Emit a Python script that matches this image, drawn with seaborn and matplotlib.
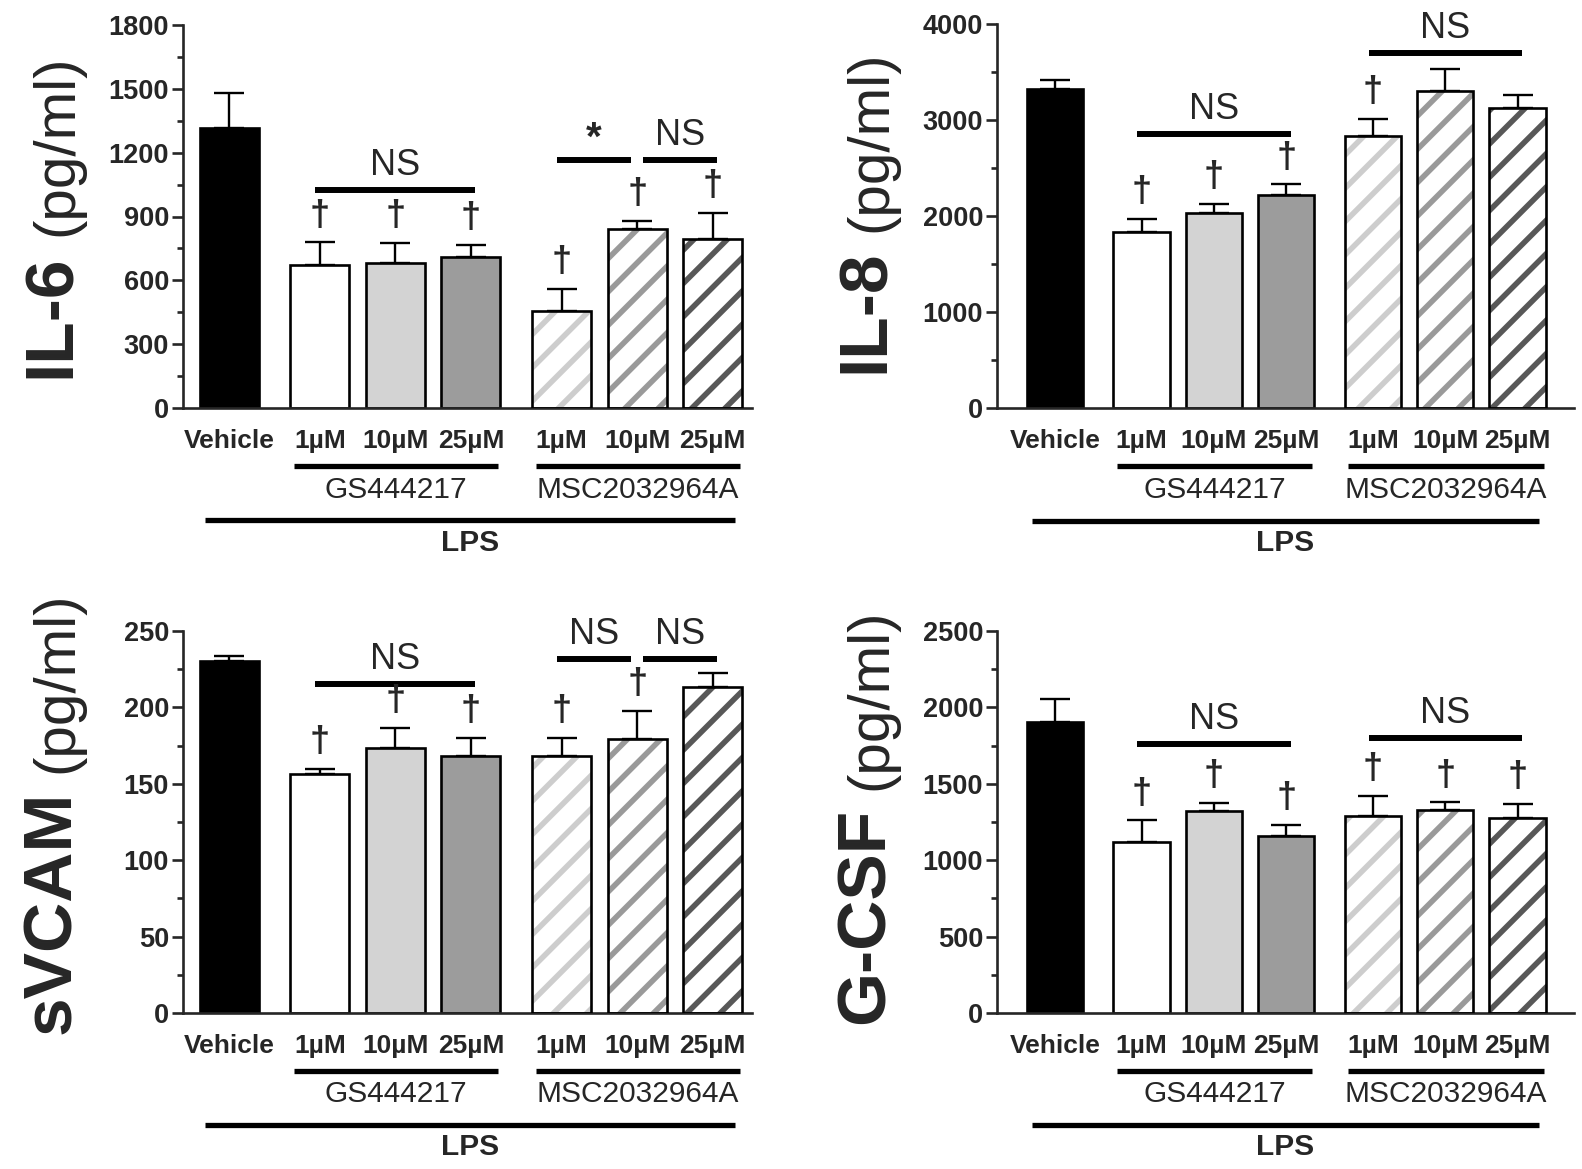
import numpy as np
import pandas as pd
import matplotlib
matplotlib.use('Agg')
import matplotlib.pyplot as plt
import matplotlib.transforms as mtransforms
from matplotlib.patches import Rectangle
from matplotlib.ticker import MultipleLocator
import seaborn as sns

# Bar groups and labels
categories = ['Vehicle', 'GS 1uM', 'GS 10uM', 'GS 25uM', 'MSC 1uM', 'MSC 10uM', 'MSC 25uM']
tick_labels = ['Vehicle', '1µM', '10µM', '25µM', '1µM', '10µM', '25µM']
group_names = ['GS444217', 'MSC2032964A']
stimulus = 'LPS'

# Mean and upper error (pg/ml)
il6_mean = [1315, 672, 683, 711, 457, 841, 796]
il6_err = [167, 106, 93, 54, 104, 40, 121]
il8_mean = [3325, 1832, 2036, 2214, 2838, 3300, 3130]
il8_err = [90, 138, 88, 115, 172, 232, 132]
svcam_mean = [230.6, 156.3, 173.3, 168.0, 168.0, 179.5, 213.6]
svcam_err = [2.8, 3.6, 13.2, 11.8, 11.8, 18.2, 9.0]
gcsf_mean = [1905, 1120, 1320, 1160, 1292, 1330, 1278]
gcsf_err = [152, 140, 53, 73, 130, 48, 90]

# Bars marked with a dagger
il6_daggers = [1, 2, 3, 4, 5, 6]
il8_daggers = [1, 2, 3, 4]
svcam_daggers = [1, 2, 3, 4, 5]
gcsf_daggers = [1, 2, 3, 4, 5, 6]

# Comparison lines: (first bar, last bar, height, label)
il6_brackets = [(1, 3, 1025, 'NS'), (4, 5, 1165, '*'), (5, 6, 1165, 'NS')]
il8_brackets = [(1, 3, 2850, 'NS'), (4, 6, 3700, 'NS')]
svcam_brackets = [(1, 3, 215.5, 'NS'), (4, 5, 231.8, 'NS'), (5, 6, 231.8, 'NS')]
gcsf_brackets = [(1, 3, 1762, 'NS'), (4, 6, 1800, 'NS')]

# layout / style
positions = [0, 1.2, 2.2, 3.2, 4.4, 5.4, 6.4]
bar_width = 0.78
face_colors = ['black', 'white', '#d3d3d3', '#9c9c9c', 'white', 'white', 'white']
stripe_colors = [None, None, None, None, '#cdcdcd', '#9a9a9a', '#585858']

sns.set_style('ticks')
plt.rcParams['font.family'] = ['Liberation Sans', 'DejaVu Sans']
plt.rcParams['hatch.linewidth'] = 4.0

W, H = 1582, 1169
fig = plt.figure(figsize=(W / 100, H / 100), dpi=100)


def px_axes(left, top, right, bottom):
    return fig.add_axes([left / W, 1 - bottom / H, (right - left) / W, (bottom - top) / H])


def draw_panel(ax, means, errs, daggers, brackets, ymax, ystep, xlim):
    df = pd.DataFrame({'pos': positions, 'value': means, 'group': categories})
    sns.barplot(data=df, x='pos', y='value', hue='group', orient='x',
                palette=dict(zip(categories, face_colors)), native_scale=True,
                width=bar_width, saturation=1, errorbar=None, edgecolor='black',
                linewidth=1.9, legend=False, ax=ax, zorder=2)

    # striped bars: hatch in grey, black outline on top
    for patch in list(ax.patches):
        cx = patch.get_x() + patch.get_width() / 2
        i = int(np.argmin(np.abs(np.array(positions) - cx)))
        if stripe_colors[i] is not None:
            patch.set_hatch('/')
            patch.set_edgecolor(stripe_colors[i])
            patch.set_linewidth(0)
            ax.add_patch(Rectangle((patch.get_x(), patch.get_y()), patch.get_width(),
                                   patch.get_height(), fill=False, edgecolor='black',
                                   linewidth=1.9, zorder=3))

    ax.errorbar(positions, means, yerr=[np.zeros(len(means)), errs], fmt='none',
                ecolor='black', elinewidth=1.7, capsize=11, capthick=1.7, zorder=1.5)

    for i in daggers:
        ax.annotate('\u2020', (positions[i], means[i] + errs[i]), xytext=(0, 19),
                    textcoords='offset points', ha='center', va='center',
                    fontsize=26, fontweight='bold')

    ends = [b[0] for b in brackets] + [b[1] for b in brackets]
    for i, j, y, label in brackets:
        x0 = positions[i] - 0.06 + (0.14 if ends.count(i) > 1 else 0)
        x1 = positions[j] + 0.06 - (0.14 if ends.count(j) > 1 else 0)
        ax.plot([x0, x1], [y, y], color='black', lw=4.3, solid_capstyle='butt', clip_on=False)
        if label == '*':
            ax.annotate(label, ((x0 + x1) / 2, y), xytext=(0, 2), textcoords='offset points',
                        ha='center', va='bottom', fontsize=29, fontweight='bold')
        else:
            ax.annotate(label, ((x0 + x1) / 2, y), xytext=(0, 5), textcoords='offset points',
                        ha='center', va='bottom', fontsize=26)

    ax.set_xlim(*xlim)
    ax.set_ylim(0, ymax)
    ax.yaxis.set_major_locator(MultipleLocator(ystep))
    ax.yaxis.set_minor_locator(MultipleLocator(ystep / 2))
    ax.set_xticks(positions, tick_labels, fontsize=19, fontweight='bold')
    ax.tick_params(axis='x', length=0, pad=15)
    ax.tick_params(axis='y', which='major', direction='out', length=8, width=1.9,
                   labelsize=19.5, pad=2)
    ax.tick_params(axis='y', which='minor', direction='out', length=4.5, width=1.9)
    for lab in ax.get_yticklabels():
        lab.set_fontweight('bold')
    ax.set_xlabel('')
    ax.set_ylabel('')
    sns.despine(ax=ax)
    for s in ('left', 'bottom'):
        ax.spines[s].set_linewidth(1.9)

    # treatment annotation below the axis
    trans = mtransforms.blended_transform_factory(ax.transData, ax.transAxes)
    half = bar_width / 2
    for (a, b), name in zip([(1, 3), (4, 6)], group_names):
        x0 = positions[a] - half + 0.05
        x1 = positions[b] + half - 0.03
        ax.plot([x0, x1], [-0.152, -0.152], transform=trans, clip_on=False,
                color='black', lw=3.8, solid_capstyle='butt')
        ax.text((x0 + x1) / 2, -0.213, name, transform=trans, ha='center',
                va='center', fontsize=21.5)
    x0 = positions[0] - 0.32
    x1 = positions[-1] + 0.3
    ax.plot([x0, x1], [-0.293, -0.293], transform=trans, clip_on=False,
            color='black', lw=3.8, solid_capstyle='butt')
    ax.text((x0 + x1) / 2, -0.352, stimulus, transform=trans, ha='center',
            va='center', fontsize=21.5, fontweight='bold')


def y_title(name, x, y_start):
    t1 = fig.text(x / W, 1 - y_start / H, name, rotation=90, rotation_mode='anchor',
                  ha='left', va='baseline', fontsize=50, fontweight='bold')
    fig.canvas.draw()
    bb = t1.get_window_extent()
    fig.text((x + 2) / W, (bb.y1 + 18) / H, '(pg/ml)', rotation=90, rotation_mode='anchor',
             ha='left', va='baseline', fontsize=42)


ax1 = px_axes(183, 25, 752, 408)
draw_panel(ax1, il6_mean, il6_err, il6_daggers, il6_brackets, 1800, 300, (-0.61, 6.92))
ax2 = px_axes(997, 24, 1574, 408)
draw_panel(ax2, il8_mean, il8_err, il8_daggers, il8_brackets, 4000, 1000, (-0.80, 7.18))
ax3 = px_axes(183, 631, 752, 1013)
draw_panel(ax3, svcam_mean, svcam_err, svcam_daggers, svcam_brackets, 250, 50, (-0.61, 6.92))
ax4 = px_axes(997, 631, 1574, 1013)
draw_panel(ax4, gcsf_mean, gcsf_err, gcsf_daggers, gcsf_brackets, 2500, 500, (-0.80, 7.18))

y_title('IL-6', 70, 378)
y_title('IL-8', 884, 373)
y_title('sVCAM', 70, 1034)
y_title('G-CSF', 884, 1024)

fig.savefig('out.png', dpi=100)
